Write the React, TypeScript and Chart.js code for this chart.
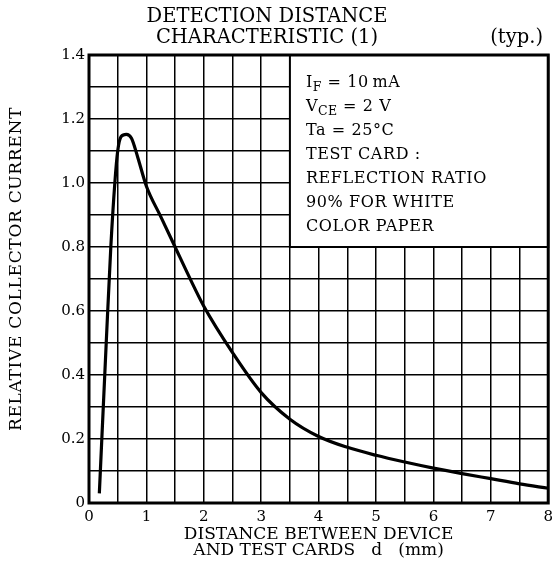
import React, { useEffect, useRef } from "react";
import { Chart, registerables } from "chart.js";

Chart.register(...registerables);

// Relative collector current vs. distance to the test card
const distanceMm = [0.18, 0.3, 0.38, 0.45, 0.5, 0.56, 0.65, 0.74, 0.85, 1.0, 1.25, 1.5, 1.75, 2.0, 2.5, 3.0, 3.5, 4.0, 4.5, 5.0, 5.5, 6.0, 6.5, 7.0, 7.5, 8.0];
const relativeCurrent = [0.03, 0.5, 0.8, 1.0, 1.1, 1.145, 1.152, 1.14, 1.08, 0.99, 0.895, 0.8, 0.705, 0.615, 0.47, 0.345, 0.262, 0.208, 0.174, 0.149, 0.128, 0.109, 0.092, 0.076, 0.06, 0.046];

const xTickLabels = ["0", "1", "2", "3", "4", "5", "6", "7", "8"];
const yTickLabels = ["0", "0.2", "0.4", "0.6", "0.8", "1.0", "1.2", "1.4"];

const titleLines = ["DETECTION DISTANCE", "CHARACTERISTIC (1)"];
const typLabel = "(typ.)";
const xTitleLines = ["DISTANCE BETWEEN DEVICE", "AND TEST CARDS   d   (mm)"];
const yTitle = "RELATIVE COLLECTOR CURRENT";

// Test conditions; segments flagged "sub" are subscripts
type Seg = { t: string; sub?: boolean };
const conditionLines: Seg[][] = [
  [{ t: "I" }, { t: "F", sub: true }, { t: " = 10\u2009mA" }],
  [{ t: "V" }, { t: "CE", sub: true }, { t: " = 2 V" }],
  [{ t: "Ta = 25\u00B0C" }],
  [{ t: "TEST CARD :" }],
  [{ t: "REFLECTION RATIO" }],
  [{ t: "90% FOR WHITE" }],
  [{ t: "COLOR PAPER" }],
];

// Extent of the conditions panel, in axis units
const panelX = [3.5, 8];
const panelY = [0.8, 1.4];

const SERIF = '"DejaVu Serif", "Liberation Serif", serif';

const decorations = {
  id: "decorations",
  beforeDatasetsDraw(chart: any) {
    const { ctx, chartArea, scales } = chart;
    const { left, top, right, bottom } = chartArea;
    const x = scales.x;
    const y = scales.y;
    ctx.save();
    // conditions panel
    const px0 = x.getPixelForValue(panelX[0]);
    const px1 = x.getPixelForValue(panelX[1]);
    const py0 = y.getPixelForValue(panelY[1]);
    const py1 = y.getPixelForValue(panelY[0]);
    ctx.fillStyle = "#fff";
    ctx.fillRect(px0, py0, px1 - px0, py1 - py0);
    ctx.strokeStyle = "#000";
    ctx.lineWidth = 2;
    ctx.strokeRect(px0, py0, px1 - px0, py1 - py0);
    // plot frame
    ctx.lineWidth = 3;
    ctx.strokeRect(left, top, right - left, bottom - top);

    // condition text
    ctx.fillStyle = "#000";
    ctx.textBaseline = "alphabetic";
    ctx.textAlign = "left";
    const tx = px0 + 16;
    let ty = py0 + 32;
    for (const line of conditionLines) {
      let cx = tx;
      for (const seg of line) {
        if (seg.sub) {
          ctx.font = `12.5px ${SERIF}`;
          ctx.letterSpacing = "0.3px";
          ctx.fillText(seg.t, cx, ty + 4);
        } else {
          ctx.font = `16px ${SERIF}`;
          ctx.letterSpacing = "0.6px";
          ctx.fillText(seg.t, cx, ty);
        }
        cx += ctx.measureText(seg.t).width;
      }
      ty += 24;
    }
    ctx.restore();
  },
  afterDraw(chart: any) {
    const { ctx, chartArea } = chart;
    const { left, top, right, bottom } = chartArea;
    ctx.save();
    ctx.fillStyle = "#000";
    ctx.textBaseline = "middle";

    // title
    ctx.font = `19.5px ${SERIF}`;
    ctx.textAlign = "center";
    ctx.fillText(titleLines[0], 267, 17);
    ctx.fillText(titleLines[1], 267, 38);
    ctx.textAlign = "right";
    ctx.fillText(typLabel, 543, 38);

    // x axis title
    ctx.font = `17px ${SERIF}`;
    ctx.textAlign = "center";
    const xc = (left + right) / 2;
    ctx.fillText(xTitleLines[0], xc, bottom + 32);
    ctx.fillText(xTitleLines[1], xc, bottom + 48);

    // y axis title
    ctx.letterSpacing = "0.7px";
    ctx.translate(17, (top + bottom) / 2 - 10);
    ctx.rotate(-Math.PI / 2);
    ctx.fillText(yTitle, 0, 0);
    ctx.restore();
  },
};

export default function App() {
  const canvasRef = useRef<HTMLCanvasElement | null>(null);

  useEffect(() => {
    const canvas = canvasRef.current;
    if (!canvas) return;
    const chart = new Chart(canvas, {
      type: "line",
      data: {
        datasets: [
          {
            data: distanceMm.map((d, i) => ({ x: d, y: relativeCurrent[i] })),
            borderColor: "#000",
            borderWidth: 3.2,
            pointRadius: 0,
            fill: false,
            cubicInterpolationMode: "monotone",
          },
        ],
      },
      options: {
        responsive: false,
        animation: false,
        events: [],
        layout: { padding: { left: 0, top: 55, right: 9, bottom: 0 } },
        plugins: { legend: { display: false }, tooltip: { enabled: false }, title: { display: false } },
        scales: {
          x: {
            type: "linear",
            min: 0,
            max: 8,
            afterFit(scale: any) {
              scale.height = 66;
            },
            border: { display: false },
            grid: { color: "#000", lineWidth: 1.5, drawTicks: false },
            ticks: {
              stepSize: 0.5,
              autoSkip: false,
              maxRotation: 0,
              padding: 5,
              color: "#000",
              font: { family: SERIF, size: 15 },
              callback: (v: any) => (Number.isInteger(v) ? xTickLabels[v] : ""),
            },
          },
          y: {
            type: "linear",
            min: 0,
            max: 1.4,
            afterFit(scale: any) {
              scale.width = 89;
            },
            border: { display: false },
            grid: { color: "#000", lineWidth: 1.5, drawTicks: false },
            ticks: {
              stepSize: 0.1,
              autoSkip: false,
              padding: 4,
              color: "#000",
              font: { family: SERIF, size: 15 },
              callback: (v: any) => {
                const k = Math.round(Number(v) * 10);
                return k % 2 === 0 ? yTickLabels[k / 2] : "";
              },
            },
          },
        },
      },
      plugins: [decorations],
    });
    return () => chart.destroy();
  }, []);

  return (
    <div style={{ position: "fixed", left: 0, top: 0, width: 558, height: 569, background: "#fff" }}>
      <canvas ref={canvasRef} width={558} height={569} style={{ display: "block" }} />
    </div>
  );
}
